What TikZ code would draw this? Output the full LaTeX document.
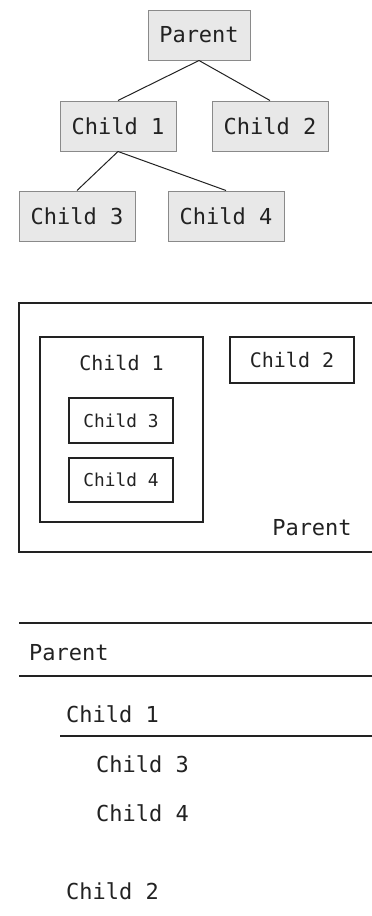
\documentclass[tikz,border=0pt]{standalone}
\usepackage{fontspec}
\setmonofont{DejaVu Sans Mono}
\usetikzlibrary{positioning}

\definecolor{boxfill}{HTML}{E8E8E8}
\definecolor{boxline}{HTML}{8A8A8A}
\definecolor{ink}{HTML}{222222}

\begin{document}
\begin{tikzpicture}[x=1pt, y=-1pt, font=\ttfamily, text=ink,
    treenode/.style={draw=boxline, fill=boxfill, line width=1pt,
        minimum width=116pt, minimum height=50pt, inner sep=0pt,
        font=\ttfamily\fontsize{22}{26}\selectfont},
    nestbox/.style={draw=ink, line width=1.2pt, inner sep=0pt},
    rowtext/.style={anchor=base west, inner sep=0pt,
        font=\ttfamily\fontsize{22}{26}\selectfont},
    rule/.style={draw=ink, line width=1.2pt}]

    \clip (0,0) rectangle (372,916);

    % tree
    \node[treenode, minimum width=102pt] (P) at (199,35) {Parent};
    \node[treenode] (C1) at (118,126) {Child 1};
    \node[treenode] (C2) at (270,126) {Child 2};
    \node[treenode] (C3) at (77,216) {Child 3};
    \node[treenode] (C4) at (226,216) {Child 4};
    \draw[ink, line width=1pt] (P.south) -- (C1.north);
    \draw[ink, line width=1pt] (P.south) -- (C2.north);
    \draw[ink, line width=1pt] (C1.south) -- (C3.north);
    \draw[ink, line width=1pt] (C1.south) -- (C4.north);

    % nested boxes
    \coordinate (outerA) at (19,303);
    \coordinate (outerB) at (390,552);
    \draw[nestbox] (outerA) rectangle (outerB);
    \node[anchor=base, inner sep=0pt, font=\ttfamily\fontsize{22}{26}\selectfont]
        (nP) at (312,535) {Parent};
    \coordinate (boxA) at (40,337);
    \coordinate (boxB) at (203,522);
    \draw[nestbox] (boxA) rectangle (boxB);
    \node[anchor=base, inner sep=0pt, font=\ttfamily\fontsize{20}{24}\selectfont]
        (nC1) at (121.5,370) {Child 1};
    \node[nestbox, minimum width=124pt, minimum height=46pt,
        font=\ttfamily\fontsize{20}{24}\selectfont] (nC2) at (292,360) {Child 2};
    \node[nestbox, minimum width=104pt, minimum height=45pt,
        font=\ttfamily\fontsize{17.8}{21}\selectfont] (nC3) at (121,420.5) {Child 3};
    \node[nestbox, minimum width=104pt, minimum height=44pt,
        font=\ttfamily\fontsize{17.8}{21}\selectfont] (nC4) at (121,480) {Child 4};

    % outline list
    \coordinate (r1a) at (19,623);  \coordinate (r1b) at (372,623);
    \coordinate (r2a) at (19,676);  \coordinate (r2b) at (372,676);
    \coordinate (r3a) at (60,736);  \coordinate (r3b) at (372,736);
    \draw[rule] (r1a) -- (r1b);
    \draw[rule] (r2a) -- (r2b);
    \draw[rule] (r3a) -- (r3b);
    \node[rowtext] (lP) at (29,660) {Parent};
    \node[rowtext] (lC1) at (66,722) {Child 1};
    \node[rowtext] (lC3) at (96,772) {Child 3};
    \node[rowtext] (lC4) at (96,821) {Child 4};
    \node[rowtext] (lC2) at (66,899) {Child 2};
\end{tikzpicture}
\end{document}
